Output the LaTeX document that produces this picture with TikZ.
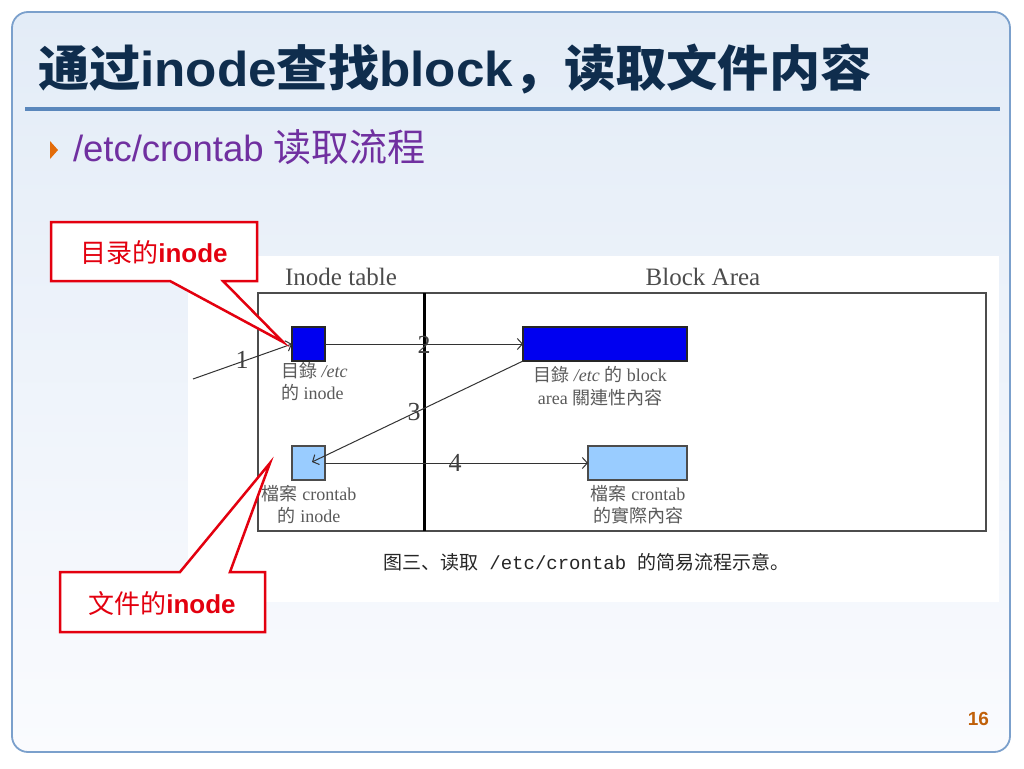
\documentclass[tikz,border=0pt]{standalone}
\usepackage{fontspec}
\usepackage{graphicx}
\setmainfont{Liberation Sans}
\newfontfamily\cjk{Noto Sans CJK SC}
\newfontfamily\cjktc{Noto Sans CJK TC}
\newfontfamily\serifl{Liberation Serif}
\newfontfamily\monol{Liberation Mono}
\usetikzlibrary{arrows.meta}
\definecolor{titlecol}{RGB}{15,45,77}
\definecolor{subcol}{RGB}{112,48,160}
\definecolor{bulletcol}{RGB}{227,108,10}
\definecolor{framecol}{RGB}{123,160,204}
\definecolor{rulecol}{RGB}{90,135,188}
\definecolor{callred}{RGB}{227,0,15}
\definecolor{dkblue}{RGB}{0,0,240}
\definecolor{ltblue}{RGB}{153,204,255}
\definecolor{pagecol}{RGB}{192,96,10}
\definecolor{labgray}{RGB}{90,90,90}
\definecolor{bgtop}{RGB}{227,236,247}
\definecolor{bgbot}{RGB}{250,251,254}
\tikzset{
  plain/.style={inner sep=0pt, outer sep=0pt},
  darkbox/.style={plain, draw=black!85, line width=1.3pt, fill=dkblue, minimum height=34pt},
  lightbox/.style={plain, draw=black!70, line width=1.3pt, fill=ltblue, minimum height=34pt},
  lab/.style={plain, text=labgray, font=\serifl\fontsize{18}{22}\selectfont},
  num/.style={plain, text=black!75, font=\serifl\fontsize{26}{28}\selectfont},
  flow/.style={draw=black!80, line width=1pt, -{Straight Barb[length=5pt,width=11pt]}},
  callout/.style={draw=callred, line width=2.5pt, fill=white, line join=miter},
  calltext/.style={plain, text=callred, font=\fontsize{26}{30}\selectfont},
}
\begin{document}
\begin{tikzpicture}[x=1pt,y=-1pt]
\useasboundingbox (0,0) rectangle (1024,768);
\fill[white] (0,0) rectangle (1024,768);
% slide frame
\shade[top color=bgtop, bottom color=bgbot, rounded corners=16pt] (12,12) rectangle (1010,752);
\draw[framecol, line width=1.8pt, rounded corners=16pt] (12,12) rectangle (1010,752);
% title
\node[plain, anchor=base west, text=titlecol, font=\bfseries\fontsize{49}{56}\selectfont] (title) at (38,86)
  {\scalebox{1.045}[1]{{\cjk 通过}inode{\cjk 查找}block{\cjk ，读取文件内容}}};
\draw[rulecol, line width=4pt] (25,109) -- (1000,109);
% bullet
\fill[bulletcol] (50,141) -- (58,150) -- (50,159) -- cycle;
\node[plain, anchor=base west, text=subcol, font=\fontsize{36.5}{40}\selectfont] (sub) at (73,161)
  {/etc/crontab {\cjk\fontsize{38}{40}\selectfont 读取流程}};
% white picture area
\fill[white] (188,256) rectangle (999,602);
% headers
\node[plain, text=black!70, font=\serifl\fontsize{25}{28}\selectfont, anchor=base] (ith) at (341,285) {Inode table};
\node[plain, text=black!70, font=\serifl\fontsize{25}{28}\selectfont, anchor=base] (bah) at (703,285) {Block Area};
% diagram frame
\node[plain, draw=black!70, line width=2pt, minimum width=728pt, minimum height=238pt] (frame) at (622,412) {};
\draw[black, line width=3pt] (424,293) -- (424,531);
% boxes
\node[darkbox, minimum width=33pt] (A) at (308.5,344) {};
\node[darkbox, minimum width=164pt] (B) at (605,344) {};
\node[lightbox, minimum width=33pt] (C) at (308.5,463) {};
\node[lightbox, minimum width=99pt] (D) at (637.5,463) {};
% labels
\node[lab, anchor=base west] (la1) at (281,377) {{\cjktc 目錄} \textit{/etc}};
\node[lab, anchor=base west] (la2) at (281,399) {{\cjktc 的} inode};
\node[lab, anchor=base] (lb1) at (600,381) {{\cjktc 目錄} \textit{/etc} {\cjktc 的} block};
\node[lab, anchor=base] (lb2) at (600,404) {area {\cjktc 關連性內容}};
\node[lab, anchor=base] (lc1) at (309,500) {{\cjktc 檔案} crontab};
\node[lab, anchor=base] (lc2) at (309,522) {{\cjktc 的} inode};
\node[lab, anchor=base] (ld1) at (638,500) {{\cjktc 檔案} crontab};
\node[lab, anchor=base] (ld2) at (638,522) {{\cjktc 的實際內容}};
% connectors
\coordinate (s1) at (193,379);
\coordinate (e3) at (312,462);
\draw[flow] (s1) -- (A.west);
\draw[flow] (A.east) -- (B.west);
\draw[flow] (B.south west) -- (e3);
\draw[flow] (C.east) -- (D.west);
\node[num] (n1) at (242,360) {1};
\node[num] (n2) at (424,345) {2};
\node[num] (n3) at (414,412) {3};
\node[num] (n4) at (455,463) {4};
% caption
\node[plain, anchor=base west, text=black!85, font=\fontsize{19}{22}\selectfont] (cap) at (383,569)
  {{\cjk 图三、读取}{\monol\ /etc/crontab\ }{\cjk 的简易流程示意。}};
% callouts
\draw[callout] (51,222) -- (257,222) -- (257,281) -- (223,281) -- (283,342) -- (170,281) -- (51,281) -- cycle;
\node[calltext] (t1) at (154,253) {{\cjk 目录的}\textbf{inode}};
\draw[callout] (60,572) -- (180,572) -- (270,463) -- (230,572) -- (265,572) -- (265,632) -- (60,632) -- cycle;
\node[calltext] (t2) at (162,604) {{\cjk 文件的}\textbf{inode}};
% page number
\node[plain, anchor=base east, text=pagecol, font=\bfseries\fontsize{19}{22}\selectfont] (pg) at (989,725) {16};
\end{tikzpicture}
\end{document}
